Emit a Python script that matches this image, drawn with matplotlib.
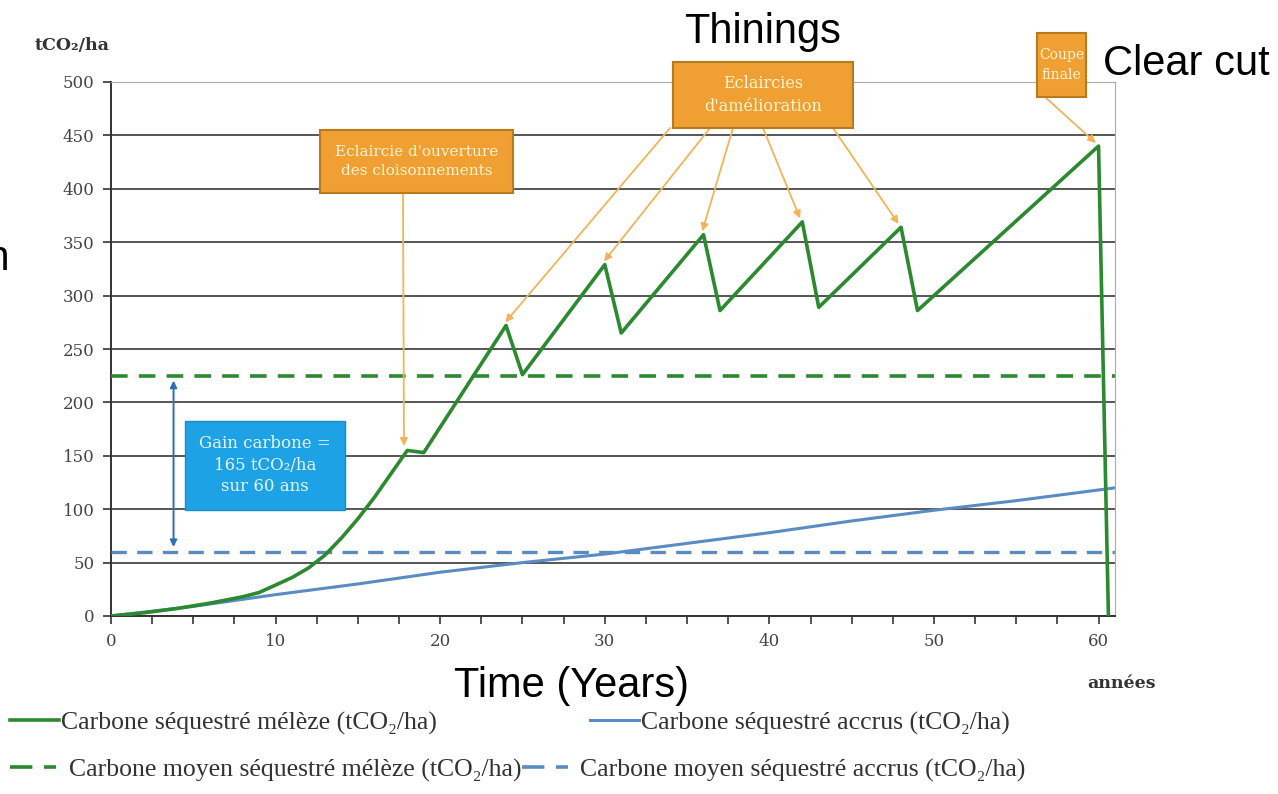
import matplotlib
matplotlib.use('Agg')
import matplotlib.pyplot as plt
from matplotlib.patches import FancyBboxPatch
from matplotlib.lines import Line2D
from matplotlib.ticker import MultipleLocator

# carbone sequestre meleze (tCO2/ha)
annees_meleze = [0, 2, 4, 6, 8, 9, 10, 11, 12, 13, 14, 15, 16, 17, 18, 19,
                 24, 25, 30, 31, 36, 37, 42, 43, 48, 49, 60, 60.6]
carbone_meleze = [0, 3, 7, 12, 18, 22, 29, 36, 45, 57, 73, 91, 111, 133, 155, 153,
                  272, 226, 329, 265, 357, 286, 369, 289, 364, 286, 440, 0]

# carbone sequestre accrus
annees_accrus = [0, 5, 10, 15, 20, 25, 30, 35, 40, 45, 50, 55, 60, 61]
carbone_accrus = [0, 9, 20, 30, 41, 50, 58, 68, 78, 89, 99, 108, 118, 120]

moyenne_meleze = 225
moyenne_accrus = 60
gain = "Gain carbone =\n165 tCO₂/ha\nsur 60 ans"

pics_eclaircies = [24, 30, 36, 42, 48]

VERT = '#2b8a30'
BLEU = '#5a8cc2'
ORANGE = '#f0a032'
FLECHE = '#f2b45a'

fig = plt.figure(figsize=(12.78, 7.94), dpi=100)
W, H = 1278, 794
ax = fig.add_axes([111 / W, 1 - 616 / H, (1115 - 111) / W, (616 - 82) / H])

ax.plot(annees_meleze, carbone_meleze, color=VERT, lw=2.6, zorder=5)
ax.plot(annees_accrus, carbone_accrus, color=BLEU, lw=2.2, zorder=4)
ax.axhline(moyenne_meleze, color=VERT, lw=2.6, ls=(0, (4.6, 3.1)), zorder=3)
ax.axhline(moyenne_accrus, color=BLEU, lw=2.4, ls=(0, (4.6, 3.1)), zorder=3)

ax.set_xlim(0, 61)
ax.set_ylim(0, 500)
ax.yaxis.set_major_locator(MultipleLocator(50))
ax.xaxis.set_major_locator(MultipleLocator(10))
ax.xaxis.set_minor_locator(MultipleLocator(2.5))
ax.grid(axis='y', color='#555555', lw=1.4, zorder=1)
for s in ['top', 'right']:
    ax.spines[s].set_color('#aaaaaa')
for s in ['left', 'bottom']:
    ax.spines[s].set_color('#333333')
    ax.spines[s].set_linewidth(1.4)
ax.tick_params(axis='both', which='both', direction='out', length=6, width=1.2,
               color='#333333', labelcolor='#444444', labelsize=12, pad=6)
for lab in ax.get_xticklabels() + ax.get_yticklabels():
    lab.set_family('DejaVu Serif')

# double fleche gain carbone
ax.annotate('', xy=(3.8, moyenne_accrus + 2), xytext=(3.8, moyenne_meleze - 2),
            arrowprops=dict(arrowstyle='<|-|>', color='#2e6fb0', lw=1.4,
                            mutation_scale=10), zorder=6)
box = FancyBboxPatch((4.5, 99), 9.7, 84, boxstyle='square,pad=0',
                     fc='#1ea2e6', ec='#1a8ccc', lw=1, zorder=6)
ax.add_patch(box)
ax.text(9.35, 141, gain, ha='center', va='center', color='#e8f6ff',
        family='DejaVu Serif', fontsize=12, linespacing=1.35, zorder=7)


def boite(x0, y0, x1, y1, texte, taille):
    # coordonnees en pixels de la figure
    p = FancyBboxPatch((x0 / W, 1 - y1 / H), (x1 - x0) / W, (y1 - y0) / H,
                       boxstyle='square,pad=0', transform=fig.transFigure,
                       fc=ORANGE, ec='#b87a1e', lw=1.5, zorder=10)
    fig.patches.append(p)
    fig.text((x0 + x1) / 2 / W, 1 - (y0 + y1) / 2 / H, texte, ha='center',
             va='center', color='#fff4d6', family='DejaVu Serif', fontsize=taille,
             linespacing=1.5, zorder=11)


def fleche(xp, yp, xd, yd):
    # de la boite (pixels) vers un point des donnees
    ax.annotate('', xy=(xd, yd), xycoords='data',
                xytext=(xp / W, 1 - yp / H), textcoords='figure fraction',
                arrowprops=dict(arrowstyle='-|>', color=FLECHE, lw=1.3,
                                mutation_scale=11, shrinkA=0, shrinkB=1),
                zorder=8, annotation_clip=False)


boite(320, 130, 513, 193, "Eclaircie d'ouverture\ndes cloisonnements", 11)
fleche(403, 193, 17.8, 158)

boite(673, 62, 853, 128, "Eclaircies\nd'amélioration", 11.5)
depart = [670, 710, 733, 763, 833]
for xp, an in zip(depart, pics_eclaircies):
    val = carbone_meleze[annees_meleze.index(an)]
    fleche(xp, 128, an - 0.1, val + 2)

boite(1037, 33, 1086, 97, "Coupe\nfinale", 10)
fleche(1045, 97, 59.9, 442)

# textes
fig.text(35 / W, 1 - 45 / H, 'tCO₂/ha', family='DejaVu Serif', weight='bold',
         fontsize=12.5, color='#333333', va='center')
fig.text(1122 / W, 1 - 683 / H, 'années', family='DejaVu Serif', weight='bold',
         fontsize=12.5, color='#333333', ha='center', va='center')
fig.text(763 / W, 1 - 43 / H, 'Thinings', family='Liberation Sans', fontsize=30,
         ha='center', va='baseline')
fig.text(1103 / W, 1 - 75 / H, 'Clear cut', family='Liberation Sans', fontsize=30,
         ha='left', va='baseline')
fig.text(572 / W, 1 - 697 / H, 'Time (Years)', family='Liberation Sans', fontsize=30,
         ha='center', va='baseline')
fig.text(11 / W, 1 - 270 / H, 'Carbon', family='Liberation Sans', fontsize=30,
         ha='right', va='baseline')

# legende : une entree par legende pour placer chaque colonne
entrees = [
    (Line2D([], [], color=VERT, lw=2.6), 'Carbone séquestré mélèze (tCO₂/ha)',
     10, 723, 1.9, 0.08),
    (Line2D([], [], color=BLEU, lw=2.2), 'Carbone séquestré accrus (tCO₂/ha)',
     590, 723, 1.9, 0.08),
    (Line2D([], [], color=VERT, lw=2.6, ls=(0, (6.2, 3.2))),
     'Carbone moyen séquestré mélèze (tCO₂/ha)', 10, 770, 1.8, 0.5),
    (Line2D([], [], color=BLEU, lw=2.6, ls=(0, (6.2, 3.2))),
     'Carbone moyen séquestré accrus (tCO₂/ha)', 522, 770, 1.8, 0.45),
]
for h, lab, xl, yl, hl, tp in entrees:
    lg = fig.legend([h], [lab], loc='center left', bbox_to_anchor=(xl / W, 1 - yl / H),
                    frameon=False, prop=dict(family=['Liberation Serif', 'DejaVu Serif'],
                                             size=18.5),
                    handlelength=hl, handletextpad=tp, borderpad=0, borderaxespad=0)
    for t in lg.get_texts():
        t.set_color('#333333')

fig.savefig('out.png', dpi=100)
